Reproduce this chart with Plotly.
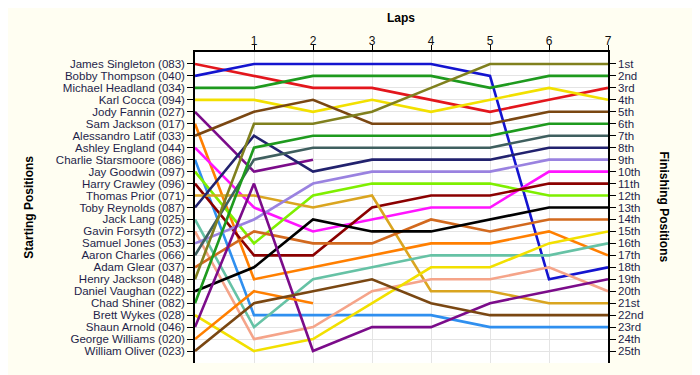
import plotly.graph_objects as go

laps = [0, 1, 2, 3, 4, 5, 6, 7]

drivers = [
    "James Singleton (083)", "Bobby Thompson (040)", "Michael Headland (034)",
    "Karl Cocca (094)", "Jody Fannin (027)", "Sam Jackson (017)",
    "Alessandro Latif (033)", "Ashley England (044)", "Charlie Starsmoore (086)",
    "Jay Goodwin (097)", "Harry Crawley (096)", "Thomas Prior (071)",
    "Toby Reynolds (087)", "Jack Lang (025)", "Gavin Forsyth (072)",
    "Samuel Jones (053)", "Aaron Charles (066)", "Adam Glear (037)",
    "Henry Jackson (048)", "Daniel Vaughan (022)", "Chad Shiner (082)",
    "Brett Wykes (028)", "Shaun Arnold (046)", "George Williams (020)",
    "William Oliver (023)",
]

# position of each driver at the end of each lap (lap 0 = grid)
james_singleton = [1, 2, 3, 3, 4, 5, 4, 3]
bobby_thompson = [2, 1, 1, 1, 1, 2, 19, 18]
michael_headland = [3, 3, 2, 2, 2, 3, 2, 2]
karl_cocca = [4, 4, 5, 4, 5, 4, 3, 4]
jody_fannin = [5, 10, 9]
sam_jackson = [6, 19, 18, 17, 16, 16, 15, 17]
alessandro_latif = [7, 5, 4, 6, 6, 6, 5, 5]
ashley_england = [8, 13, 15, 14, 13, 13, 10, 10]
charlie_starsmoore = [9, 22, 22, 22, 22, 23, 23, 23]
jay_goodwin = [10, 16, 12, 11, 11, 11, 12, 12]
harry_crawley = [11, 17, 17, 13, 12, 12, 11, 11]
thomas_prior = [12, 12, 13, 12, 20, 20, 21, 21]
toby_reynolds = [13, 7, 10, 9, 9, 9, 8, 8]
jack_lang = [14, 23, 19, 18, 17, 17, 17, 16]
gavin_forsyth = [15, 24, 23, 20, 19, 19, 18, 20]
samuel_jones = [16, 14, 11, 10, 10, 10, 9, 9]
aaron_charles = [17, 9, 8, 8, 8, 8, 7, 7]
adam_glear = [18, 15, 16, 16, 14, 15, 14, 14]
henry_jackson = [19, 6, 6, 5, 3, 1, 1, 1]
daniel_vaughan = [20, 18, 14, 15, 15, 14, 13, 13]
chad_shiner = [21, 8, 7, 7, 7, 7, 6, 6]
brett_wykes = [22, 25, 24, 21, 18, 18, 16, 15]
shaun_arnold = [23, 11, 25, 23, 23, 21, 20, 19]
george_williams = [24, 20, 21]
william_oliver = [25, 21, 20, 19, 21, 22, 22, 22]

positions = [
    james_singleton, bobby_thompson, michael_headland, karl_cocca, jody_fannin,
    sam_jackson, alessandro_latif, ashley_england, charlie_starsmoore, jay_goodwin,
    harry_crawley, thomas_prior, toby_reynolds, jack_lang, gavin_forsyth,
    samuel_jones, aaron_charles, adam_glear, henry_jackson, daniel_vaughan,
    chad_shiner, brett_wykes, shaun_arnold, george_williams, william_oliver,
]

finish_labels = ["1st", "2nd", "3rd", "4th", "5th", "6th", "7th", "8th", "9th", "10th",
                 "11th", "12th", "13th", "14th", "15th", "16th", "17th", "18th", "19th",
                 "20th", "21st", "22nd", "23rd", "24th", "25th"]

colors = [
    "#E3161C", "#1414CF", "#1E9A1E", "#F2E000", "#7B0C8A",
    "#FF7F00", "#7A4712", "#FF14FF", "#2F8FEF", "#7FEF00",
    "#8B0000", "#DAA520", "#22226E", "#66C2A5", "#F5A489",
    "#9A82E0", "#3F5F5F", "#D2691E", "#80801E", "#000000",
    "#1E9A1E", "#F2E000", "#7B0C8A", "#FF7F00", "#7A4712",
]

fig = go.Figure()
for name, pos, col in zip(drivers, positions, colors):
    fig.add_trace(go.Scatter(
        x=laps[:len(pos)], y=pos, mode="lines", name=name,
        line=dict(color=col, width=2.6), showlegend=False,
    ))

# invisible trace to anchor the right axis
final = [p[-1] for p in positions if len(p) == len(laps)]
fig.add_trace(go.Scatter(x=[laps[-1]] * len(final), y=final, yaxis="y2",
                         mode="markers", marker=dict(opacity=0), showlegend=False,
                         hoverinfo="skip"))

FONT = "Liberation Sans, Arial, sans-serif"
label_font = dict(family=FONT, size=11.5, color="#1E1E4A")
ticks = list(range(1, 26))

fig.update_layout(
    width=692, height=367,
    margin=dict(l=187, r=92, t=44, b=12),
    paper_bgcolor="#FFFEF2",
    plot_bgcolor="#FFFFFF",
    xaxis=dict(
        side="top", range=[0, 7], tickvals=laps[1:], ticktext=[str(l) for l in laps[1:]],
        showline=True, linecolor="black", linewidth=1.5, ticks="outside", ticklen=5,
        tickcolor="black", showgrid=True, gridcolor="#E4E4E4", gridwidth=1,
        zeroline=False, tickfont=dict(family=FONT, size=12, color="#111111"),
        ticklabelstandoff=-5,
    ),
    yaxis=dict(
        range=[26, 0], tickvals=ticks, ticktext=drivers, showline=True,
        linecolor="black", linewidth=1.5, ticks="outside", ticklen=6, tickcolor="black",
        showgrid=True, gridcolor="#E4E4E4", gridwidth=1, zeroline=False,
        tickfont=label_font, automargin=False,
    ),
    yaxis2=dict(
        range=[26, 0], tickvals=ticks, ticktext=finish_labels, overlaying="y",
        side="right", showline=True, linecolor="black", linewidth=1.5,
        ticks="outside", ticklen=6, tickcolor="black", showgrid=False, zeroline=False,
        tickfont=label_font, automargin=False,
    ),
    annotations=[
        dict(text="<b>Laps</b>", xref="paper", yref="paper", x=0.499, y=1.109,
             xanchor="center", yanchor="middle", showarrow=False,
             font=dict(family=FONT, size=12, color="black")),
        dict(text="<b>Starting Positions</b>", xref="paper", yref="paper",
             x=-0.404, y=0.5, xanchor="center", yanchor="middle", textangle=-90,
             showarrow=False, font=dict(family=FONT, size=12, color="black")),
        dict(text="<b>Finishing Positions</b>", xref="paper", yref="paper",
             x=1.138, y=0.5, xanchor="center", yanchor="middle", textangle=90,
             showarrow=False, font=dict(family=FONT, size=12, color="black")),
    ],
)

fig.write_html("out.html")
